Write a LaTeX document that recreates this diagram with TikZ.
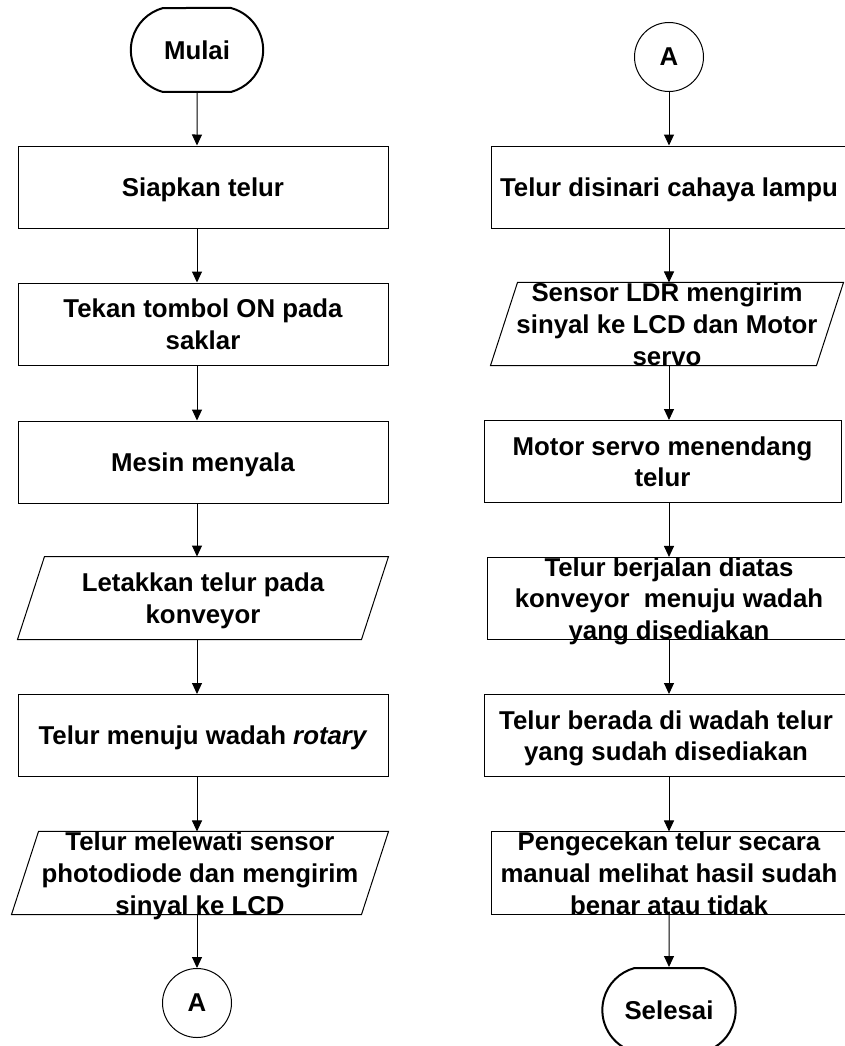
\documentclass[tikz,border=0pt]{standalone}
\usepackage{fontspec}
\setmainfont{Liberation Sans}
\usepackage{tikz}
\usetikzlibrary{shapes,arrows.meta}
\usetikzlibrary{shapes.misc}

\begin{document}
\begin{tikzpicture}[x=1pt,y=-1pt,font=\bfseries\fontsize{25.8}{31.7}\selectfont]
\tikzstyle{proc} = [draw,line width=1pt,minimum width=370pt,minimum height=82pt,inner sep=0pt,text depth=0pt,align=center];
\tikzstyle{io} = [proc,draw=none,append after command={\pgfextra{\draw[line width=1pt] ([xshift=27pt]\tikzlastnode.north west) -- (\tikzlastnode.north east) -- ([xshift=-27pt]\tikzlastnode.south east) -- (\tikzlastnode.south west) -- cycle;}}];
\tikzstyle{term} = [draw,line width=2pt,rounded rectangle,rounded rectangle arc length=150,minimum width=139pt,minimum height=84pt];
\tikzstyle{conn} = [draw,circle,line width=1pt,minimum size=69pt,inner sep=0pt];
\tikzstyle{arr} = [-{Triangle[length=11pt,width=10pt]},line width=1pt];
\useasboundingbox (0,0) rectangle (845,1046);
\clip (0,0) rectangle (845,1046);

% kolom kiri
\node [term] (mulai) at (197,50) {Mulai};
\node [proc] (siap) at (203,187) {Siapkan telur};
\node [proc] (tekan) at (203,324) {Tekan tombol ON pada\\saklar};
\node [proc] (mesin) at (203,462) {Mesin menyala};
\node [io] (letak) at (203,598) {Letakkan telur pada\\konveyor};
\node [proc] (menuju) at (203,735.5) {Telur menuju wadah \textit{rotary}};
\node [io,minimum width=376pt] (lewat) at (200,873) {Telur melewati sensor\\photodiode dan mengirim\\sinyal ke LCD};
\node [conn] (ka) at (197,1003) {A};

\draw[arr] (mulai) -- (siap.north -| mulai);
\draw[arr] (siap.south -| mulai) -- (tekan.north -| mulai);
\draw[arr] (tekan.south -| mulai) -- (mesin.north -| mulai);
\draw[arr] (mesin.south -| mulai) -- (letak.north -| mulai);
\draw[arr] (letak.south -| mulai) -- (menuju.north -| mulai);
\draw[arr] (menuju.south -| mulai) -- (lewat.north -| mulai);
\draw[arr] (lewat.south -| mulai) -- (ka);

% kolom kanan
\node [conn] (kb) at (669,57) {A};
\node [proc,minimum width=356pt] (sinar) at (669,187) {Telur disinari cahaya lampu};
\node [io,minimum width=352pt] (ldr) at (667,324) {Sensor LDR mengirim\\sinyal ke LCD dan Motor\\servo};
\node [proc,minimum width=357pt] (servo) at (662.5,461.5) {Motor servo menendang\\telur};
\node [proc,minimum width=364pt] (jalan) at (669,598.5) {Telur berjalan diatas\\konveyor~ menuju wadah\\yang disediakan};
\node [proc,minimum width=364pt] (berada) at (666,735.5) {Telur berada di wadah telur\\yang sudah disediakan};
\node [proc,minimum width=356pt] (cek) at (669,873) {Pengecekan telur secara\\manual melihat hasil sudah\\benar atau tidak};
\node [term,minimum width=140pt] (selesai) at (669,1010) {Selesai};

\draw[arr] (kb) -- (sinar.north -| kb);
\draw[arr] (sinar.south -| kb) -- (ldr.north -| kb);
\draw[arr] (ldr.south -| kb) -- (servo.north -| kb);
\draw[arr] (servo.south -| kb) -- (jalan.north -| kb);
\draw[arr] (jalan.south -| kb) -- (berada.north -| kb);
\draw[arr] (berada.south -| kb) -- (cek.north -| kb);
\draw[arr] (cek.south -| kb) -- (selesai);

\end{tikzpicture}
\end{document}
